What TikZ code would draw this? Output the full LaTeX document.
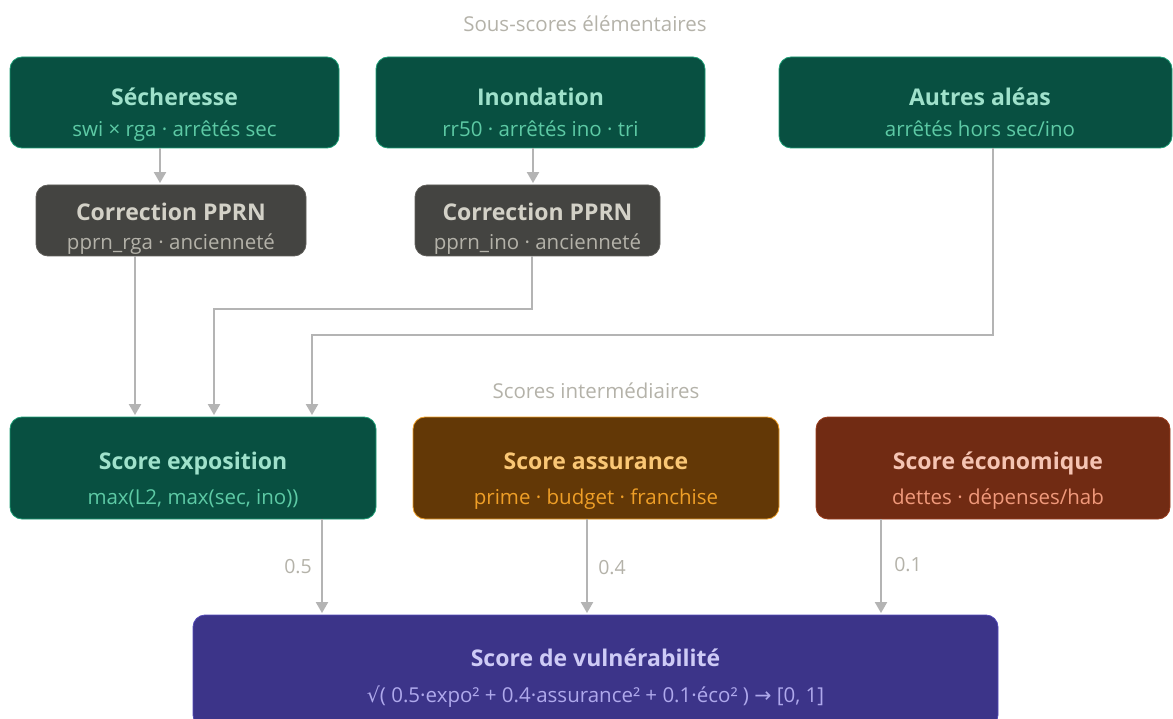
\documentclass[tikz,border=0pt]{standalone}
\usepackage{fontspec}
\setmainfont{Open Sans}
\newfontfamily\symfont{DejaVu Sans}
\usetikzlibrary{arrows.meta}

% palette
\definecolor{tealfill}{HTML}{085041}
\definecolor{tealline}{HTML}{1D9E75}
\definecolor{tealtitle}{HTML}{9FE1CB}
\definecolor{tealsub}{HTML}{5DCAA5}
\definecolor{grayfill}{HTML}{444441}
\definecolor{grayline}{HTML}{5F5E5A}
\definecolor{graytitle}{HTML}{D3D1C7}
\definecolor{graysub}{HTML}{B4B2A9}
\definecolor{amberfill}{HTML}{633806}
\definecolor{amberline}{HTML}{EF9F27}
\definecolor{ambertitle}{HTML}{FAC775}
\definecolor{ambersub}{HTML}{EF9F27}
\definecolor{coralfill}{HTML}{712B13}
\definecolor{coralline}{HTML}{993C1D}
\definecolor{coraltitle}{HTML}{F5C4B3}
\definecolor{coralsub}{HTML}{F0997B}
\definecolor{purplefill}{HTML}{3C3489}
\definecolor{purpleline}{HTML}{534AB7}
\definecolor{purpletitle}{HTML}{CECBF6}
\definecolor{purplesub}{HTML}{AFA9EC}
\definecolor{wire}{HTML}{B4B4B4}
\definecolor{caption}{HTML}{B4B2A9}

\tikzset{
  card/.style={rectangle, rounded corners=12pt, line width=0.8pt, inner sep=0pt},
  ttl/.style={inner sep=0pt, font=\fontsize{23}{27}\selectfont\bfseries, text height=16pt, text depth=5pt, yshift=-2.5pt},
  sub/.style={inner sep=0pt, font=\fontsize{20.5}{24}\selectfont, text height=14pt, text depth=5pt, yshift=-3pt},
  tier/.style={inner sep=0pt, text=caption, font=\fontsize{20.5}{24}\selectfont, yshift=-1pt},
  weight/.style={inner sep=0pt, text=caption, font=\fontsize{19.5}{23}\selectfont},
  conn/.style={draw=wire, line width=2pt, -{Triangle[width=12pt,length=11pt]}, shorten >=1.5pt}
}

\begin{document}
\begin{tikzpicture}[x=1pt,y=-1pt]
\useasboundingbox (0,0) rectangle (1173,719);
\clip (0,0) rectangle (1173,719);

% tier captions
\node[tier] (cap1) at (585,23) {Sous-scores élémentaires};
\node[tier] (cap2) at (596,390) {Scores intermédiaires};

% elementary sub-scores
\node[card, fill=tealfill, draw=tealline, minimum width=329pt, minimum height=91pt] (sech) at (174.5,102.5) {};
\node[ttl, text=tealtitle] (secht) at (174.5,98) {Sécheresse};
\node[sub, text=tealsub] (sechs) at (174.5,129) {swi × rga · arrêtés sec};

\node[card, fill=tealfill, draw=tealline, minimum width=329pt, minimum height=91pt] (inon) at (540.5,102.5) {};
\node[ttl, text=tealtitle] (inont) at (540.5,98) {Inondation};
\node[sub, text=tealsub] (inons) at (540.5,129) {rr50 · arrêtés ino · tri};

\node[card, fill=tealfill, draw=tealline, minimum width=393pt, minimum height=91pt] (autr) at (975.5,102.5) {};
\node[ttl, text=tealtitle] (autrt) at (980,98) {Autres aléas};
\node[sub, text=tealsub] (autrs) at (980,129) {arrêtés hors sec/ino};

% PPRN corrections
\node[card, fill=grayfill, draw=grayline, minimum width=270pt, minimum height=71pt] (corr1) at (171,220.5) {};
\node[ttl, text=graytitle] (corr1t) at (171,213) {Correction PPRN};
\node[sub, text=graysub] (corr1s) at (171,242) {pprn\_rga · ancienneté};

\node[card, fill=grayfill, draw=grayline, minimum width=245pt, minimum height=71pt] (corr2) at (537.5,220.5) {};
\node[ttl, text=graytitle] (corr2t) at (537.5,213) {Correction PPRN};
\node[sub, text=graysub] (corr2s) at (537.5,242) {pprn\_ino · ancienneté};

% intermediate scores
\node[card, fill=tealfill, draw=tealline, minimum width=366pt, minimum height=102pt] (expo) at (193,468) {};
\node[ttl, text=tealtitle] (expot) at (193,461) {Score exposition};
\node[sub, text=tealsub] (expos) at (193,497) {max(L2, max(sec, ino))};

\node[card, fill=amberfill, draw=amberline, minimum width=366pt, minimum height=102pt] (assu) at (596,468) {};
\node[ttl, text=ambertitle] (assut) at (596,461) {Score assurance};
\node[sub, text=ambersub] (assus) at (596,497) {prime · budget · franchise};

\node[card, fill=coralfill, draw=coralline, minimum width=354pt, minimum height=102pt] (econ) at (993,468) {};
\node[ttl, text=coraltitle] (econt) at (998,461) {Score économique};
\node[sub, text=coralsub] (econs) at (998,497) {dettes · dépenses/hab};

% final score
\node[card, fill=purplefill, draw=purpleline, minimum width=805pt, minimum height=112pt] (vuln) at (595.5,671) {};
\node[ttl, text=purpletitle] (vulnt) at (595.5,658) {Score de vulnérabilité};
\node[sub, text=purplesub] (vulns) at (595.5,695) {{\symfont √}( 0.5·expo² + 0.4·assurance² + 0.1·éco² ) {\symfont →} [0, 1]};

% routing points
\coordinate (r1) at (532,309);
\coordinate (r2) at (993,335);

% connectors
\draw[conn] (160,0 |- sech.south) -- (160,0 |- corr1.north);
\draw[conn] (533,0 |- inon.south) -- (533,0 |- corr2.north);
\draw[conn] (135,0 |- corr1.south) -- (135,0 |- expo.north);
\draw[conn] (r1 |- corr2.south) -- (r1) -- (214,309) -- (214,0 |- expo.north);
\draw[conn] (r2 |- autr.south) -- (r2) -- (312,335) -- (312,0 |- expo.north);

\draw[conn] (322,0 |- expo.south) -- (322,0 |- vuln.north);
\draw[conn] (587,0 |- assu.south) -- (587,0 |- vuln.north);
\draw[conn] (881,0 |- econ.south) -- (881,0 |- vuln.north);

% weights
\node[weight] (w1) at (298,567) {0.5};
\node[weight] (w2) at (612,568) {0.4};
\node[weight] (w3) at (908,565) {0.1};
\end{tikzpicture}
\end{document}
